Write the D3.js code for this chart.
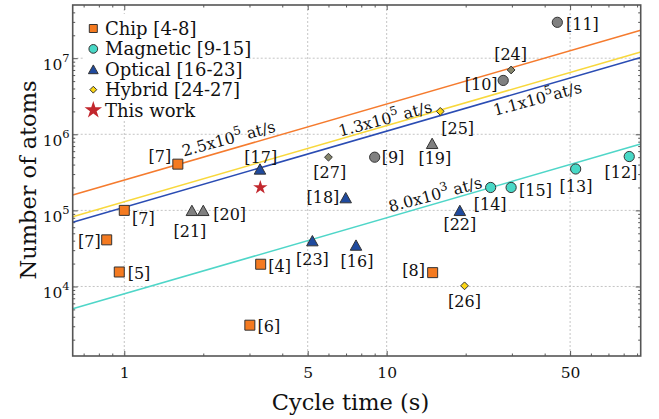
<!DOCTYPE html>
<html><head><meta charset="utf-8">
<script src="https://cdn.jsdelivr.net/npm/d3@7"></script>
<style>body{margin:0;background:#fff}svg{display:block}</style>
</head><body><svg id="c" width="659" height="419"></svg>
<script>
// ---------- data ----------
const chipRefs  = ["[7]","[7]","[7]","[5]","[4]","[6]","[8]"];
const chipTime  = [1.6, 1.0, 0.857, 0.957, 3.31, 3.01, 14.97];
const chipAtoms = [4.05e5, 1.0e5, 4.1e4, 1.55e4, 1.96e4, 3.1e3, 1.52e4];
const chipGray  = [0,0,0,0,0,0,0];

const magRefs  = ["[9]","[10]","[11]","[12]","[13]","[14]","[15]"];
const magTime  = [9.0, 27.8, 44.7, 84, 52.5, 24.9, 29.8];
const magAtoms = [5.0e5, 5.1e6, 2.96e7, 5.1e5, 3.5e5, 2.0e5, 2.0e5];
const magGray  = [1,1,1,0,0,0,0];

const optRefs  = ["[16]","[17]","[18]","[19]","[20]","[21]","[22]","[23]"];
const optTime  = [7.64, 3.29, 6.98, 14.9, 2.0, 1.81, 19.0, 5.21];
const optAtoms = [3.5e4, 3.5e5, 1.47e5, 7.6e5, 1.0e5, 1.0e5, 1.0e5, 4.0e4];
const optGray  = [0,0,0,1,1,1,0,0];

const hybRefs  = ["[24]","[25]","[26]","[27]"];
const hybTime  = [29.8, 16.0, 19.8, 6.0];
const hybAtoms = [7.0e6, 2.0e6, 1.02e4, 5.0e5];
const hybGray  = [1,0,0,1];

const thisTime  = [3.3];
const thisAtoms = [2.0e5];

const rates      = [2.5e5, 1.3e5, 1.1e5, 8.0e3];
const rateMant   = ["2.5", "1.3", "1.1", "8.0"];
const rateExp    = ["5", "5", "5", "3"];
const rateSuffix = [" at/s", " at/s", "at/s", " at/s"];

const legendNames = ["Chip [4-8]", "Magnetic [9-15]", "Optical [16-23]", "Hybrid [24-27]", "This work"];
const xTickVals = [1, 5, 10, 50];
const xTickText = ["1", "5", "10", "50"];
const yTickVals = [1e4, 1e5, 1e6, 1e7];
const yTickExp  = ["4", "5", "6", "7"];

// ---------- layout ----------
const L = 72.7, R = 640.7, T = 5, B = 356;
const FONT = "'DejaVu Serif',serif";
const svg = d3.select("#c");
const x = d3.scaleLog().domain([0.636, 92.9]).range([L, R]);
const y = d3.scaleLog().domain([1220, 5e7]).range([B, T]);

const colors = {chip:"#f47a20", mag:"#48d8c6", opt:"#1f4a9e", hyb:"#fbd514", gray:"#808080", grayD:"#85856c", star:"#c2272d"};
const lineColors = ["#f57b2e", "#f8d83c", "#2a4cb3", "#4fd6c8"];
const edge = "#333";

// label placement (anchor, dx, dy) in the same order as the data arrays
const chipLab = [["end",-6.7,-3],["start",7.7,12.7],["end",-6,6.5],["start",8.4,6.7],["start",7.6,7],["start",7.7,6.5],["end",-7.7,3]];
const magLab  = [["start",7,5.7],["end",-5.6,9.3],["start",8.7,7.3],["middle",-8.3,21.3],["middle",0.3,22.5],["middle",-0.5,22.5],["start",8,7.7]];
const optLab  = [["middle",1,21],["middle",0.8,-6.5],["end",-6.4,5.3],["middle",2.7,20],["start",10,9],["middle",-2,25.7],["middle",0,19],["middle",0,23.5]];
const hybLab  = [["middle",-0.5,-10.3],["start",1,22],["middle",0,21],["middle",1.3,20.7]];
const rateLabX   = [2.53, 10.0, 38, 15.5];
const rateLabOff = [-5.5, -1.5, 17, -3.5];

svg.append("defs").append("clipPath").attr("id","clip")
  .append("rect").attr("x",L).attr("y",T).attr("width",R-L).attr("height",B-T);

// ---------- grid ----------
const grid = svg.append("g").attr("stroke","#b5b5b5").attr("stroke-width",0.8).attr("stroke-dasharray","2,2");
grid.selectAll(".gx").data(xTickVals).join("line")
  .attr("x1",d=>x(d)).attr("x2",d=>x(d)).attr("y1",T).attr("y2",B);
grid.selectAll(".gy").data(yTickVals).join("line")
  .attr("y1",d=>y(d)).attr("y2",d=>y(d)).attr("x1",L).attr("x2",R);

// ---------- axes / ticks ----------
const xMinor = [], yMinor = [];
[0.1,1,10].forEach(dec=>{ for(let k=2;k<=9;k++){ const v=k*dec; if(v>0.636 && v<92.9 && !xTickVals.includes(v)) xMinor.push(v);} });
[1e3,1e4,1e5,1e6,1e7].forEach(dec=>{ for(let k=2;k<=9;k++){ const v=k*dec; if(v>1220 && v<5e7) yMinor.push(v);} });

function styleAxis(g){ g.select(".domain").remove(); g.selectAll(".tick line").attr("stroke","#555").attr("stroke-width",1); }

svg.append("g").attr("transform",`translate(0,${B})`)
  .call(d3.axisBottom(x).tickValues(xTickVals).tickSize(-5).tickPadding(11).tickFormat((d,i)=>xTickText[i]))
  .call(styleAxis)
  .call(g=>g.selectAll("text").attr("font-family",FONT).attr("font-size",15.5).attr("fill","#111"));
svg.append("g").attr("transform",`translate(0,${B})`)
  .call(d3.axisBottom(x).tickValues(xMinor).tickSize(-2.5).tickFormat(""))
  .call(styleAxis);
svg.append("g").attr("transform",`translate(0,${T})`)
  .call(d3.axisTop(x).tickValues(xTickVals).tickSize(-5).tickFormat(""))
  .call(styleAxis);
svg.append("g").attr("transform",`translate(0,${T})`)
  .call(d3.axisTop(x).tickValues(xMinor).tickSize(-2.5).tickFormat(""))
  .call(styleAxis);

const yAx = svg.append("g").attr("transform",`translate(${L},0)`)
  .call(d3.axisLeft(y).tickValues(yTickVals).tickSize(-5).tickPadding(3).tickFormat(()=>"10"))
  .call(styleAxis);
yAx.selectAll("text").attr("font-family",FONT).attr("font-size",15.5).attr("fill","#111").attr("dy","0.7em")
  .each(function(d,i){ d3.select(this).append("tspan").attr("font-size",11.5).attr("dy",-8).text(yTickExp[i]); });
svg.append("g").attr("transform",`translate(${L},0)`)
  .call(d3.axisLeft(y).tickValues(yMinor).tickSize(-2.5).tickFormat(""))
  .call(styleAxis);
svg.append("g").attr("transform",`translate(${R},0)`)
  .call(d3.axisRight(y).tickValues(yTickVals).tickSize(-5).tickFormat(""))
  .call(styleAxis);
svg.append("g").attr("transform",`translate(${R},0)`)
  .call(d3.axisRight(y).tickValues(yMinor).tickSize(-2.5).tickFormat(""))
  .call(styleAxis);

// ---------- rate lines ----------
const lineG = svg.append("g").attr("clip-path","url(#clip)");
const xs = x.domain();
rates.forEach((r,i)=>{
  lineG.append("path")
    .datum(xs.map(t=>[t, r*t]))
    .attr("d", d3.line().x(d=>x(d[0])).y(d=>y(d[1])))
    .attr("fill","none").attr("stroke",lineColors[i]).attr("stroke-width",1.5);
});
const slopeDeg = -Math.atan((y(1e5)-y(1e6))/(x(10)-x(1)))*180/Math.PI*0.93;
rates.forEach((r,i)=>{
  const px = x(rateLabX[i]), py = y(r*rateLabX[i]) + rateLabOff[i];
  const t = svg.append("text").attr("transform",`translate(${px},${py}) rotate(${slopeDeg})`)
    .attr("text-anchor","middle").attr("font-family",FONT).attr("font-size",15.8).attr("fill","#111");
  t.append("tspan").text(rateMant[i]+"x10");
  t.append("tspan").attr("font-size",12).attr("dy",-7).text(rateExp[i]);
  t.append("tspan").attr("dy",7).text(rateSuffix[i]);
});

// ---------- markers ----------
const triType = {draw(ctx,size){ const w=Math.sqrt(size)*1.15, h=w*0.9; ctx.moveTo(0,-h/2); ctx.lineTo(w/2,h/2); ctx.lineTo(-w/2,h/2); ctx.closePath(); }};
const diaType = {draw(ctx,size){ const r=Math.sqrt(size)/2*1.3; ctx.moveTo(0,-r); ctx.lineTo(r,0); ctx.lineTo(0,r); ctx.lineTo(-r,0); ctx.closePath(); }};
const groups = [
  {refs:chipRefs, t:chipTime, n:chipAtoms, g:chipGray, lab:chipLab, type:d3.symbolSquare, size:100, col:colors.chip, gcol:colors.gray},
  {refs:magRefs,  t:magTime,  n:magAtoms,  g:magGray,  lab:magLab,  type:d3.symbolCircle, size:82,  col:colors.mag,  gcol:colors.gray},
  {refs:optRefs,  t:optTime,  n:optAtoms,  g:optGray,  lab:optLab,  type:triType,         size:100, col:colors.opt,  gcol:colors.gray},
  {refs:hybRefs,  t:hybTime,  n:hybAtoms,  g:hybGray,  lab:hybLab,  type:diaType,         size:36,  col:colors.hyb,  gcol:colors.grayD}
];
const mG = svg.append("g");
const labG = svg.append("g").attr("font-family",FONT).attr("font-size",16).attr("fill","#111");
groups.forEach(G=>{
  G.t.forEach((tv,i)=>{
    const px = x(tv), py = y(G.n[i]);
    mG.append("path").attr("d", d3.symbol().type(G.type).size(G.size)())
      .attr("transform",`translate(${px},${py})`)
      .attr("fill", G.g[i] ? G.gcol : G.col).attr("stroke",edge).attr("stroke-width",1);
    const [anc,dx,dy] = G.lab[i];
    labG.append("text").attr("x",px+dx).attr("y",py+dy+0.5).attr("text-anchor",anc).text(G.refs[i]);
  });
});
thisTime.forEach((tv,i)=>{
  mG.append("path").attr("d", d3.symbol().type(d3.symbolStar).size(64)())
    .attr("transform",`translate(${x(tv)},${y(thisAtoms[i])})`).attr("fill",colors.star);
});

// ---------- frame ----------
svg.append("rect").attr("x",L).attr("y",T).attr("width",R-L).attr("height",B-T)
  .attr("fill","none").attr("stroke","#555").attr("stroke-width",1.6);

// ---------- legend ----------
const lg = svg.append("g");
lg.append("rect").attr("x",83).attr("y",14).attr("width",165).attr("height",107).attr("fill","#fff");
const legTypes = [d3.symbolSquare, d3.symbolCircle, triType, diaType, d3.symbolStar];
const legSizes = [64, 60, 72, 28, 95];
const legCols  = [colors.chip, colors.mag, colors.opt, colors.hyb, colors.star];
legendNames.forEach((nm,i)=>{
  const cy = 28.5 + i*20.4;
  lg.append("path").attr("d", d3.symbol().type(legTypes[i]).size(legSizes[i])())
    .attr("transform",`translate(93.3,${cy})`).attr("fill",legCols[i])
    .attr("stroke", i===4 ? "none" : edge).attr("stroke-width",1);
  lg.append("text").attr("x",105).attr("y",cy+6.5).attr("font-family",FONT).attr("font-size",18)
    .attr("fill","#111").text(nm);
});

// ---------- titles ----------
svg.append("text").attr("x",350.5).attr("y",410).attr("text-anchor","middle")
  .attr("font-family",FONT).attr("font-size",22.5).attr("fill","#111").text("Cycle time (s)");
svg.append("text").attr("transform","translate(35.5,180) rotate(-90)").attr("text-anchor","middle")
  .attr("font-family",FONT).attr("font-size",22.5).attr("fill","#111").text("Number of atoms");
</script></body></html>
